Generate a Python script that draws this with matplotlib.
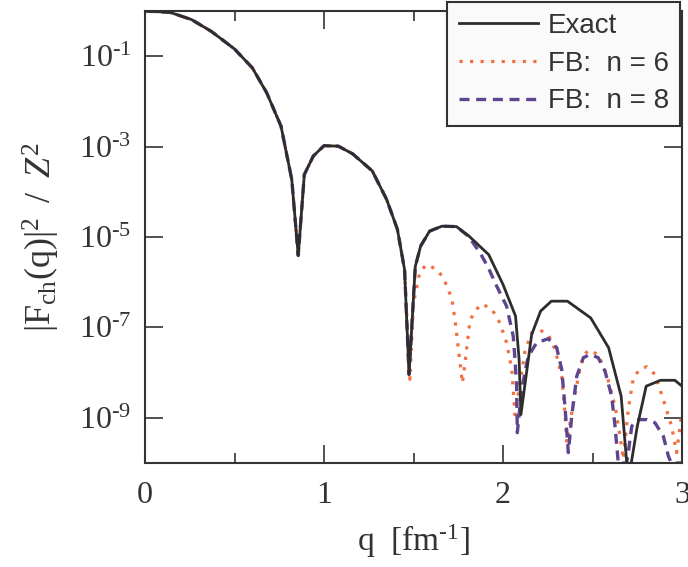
import numpy as np
import matplotlib
matplotlib.use("Agg")
import matplotlib.pyplot as plt

plt.rcParams['font.family'] = ['Liberation Serif', 'DejaVu Serif']
plt.rcParams['mathtext.fontset'] = 'custom'
plt.rcParams['mathtext.rm'] = 'Liberation Serif'
plt.rcParams['mathtext.it'] = 'Liberation Serif:italic'
plt.rcParams['mathtext.bf'] = 'Liberation Serif:bold'

# Data (log10 of |F_ch(q)|^2 / Z^2) ============================================
q_exact = [0.00, 0.14, 0.26, 0.37, 0.50, 0.60, 0.68, 0.76, 0.82, 0.856, 0.89, 0.94,
           1.00, 1.08, 1.16, 1.27, 1.35, 1.41, 1.45, 1.475, 1.51, 1.54, 1.59, 1.66,
           1.74, 1.81, 1.92, 2.00, 2.07, 2.09, 2.10, 2.16, 2.21, 2.27, 2.36, 2.49,
           2.59, 2.66, 2.70, 2.75, 2.80, 2.88, 2.96, 3.00]
lg_exact = [0.0, -0.03, -0.19, -0.45, -0.84, -1.26, -1.81, -2.55, -3.73, -5.41, -3.62, -3.21,
            -2.98, -2.99, -3.16, -3.54, -4.17, -4.83, -5.72, -8.04, -5.65, -5.20, -4.87, -4.76,
            -4.77, -4.98, -5.39, -6.05, -6.75, -7.71, -8.93, -7.16, -6.64, -6.42, -6.42, -6.79,
            -7.45, -8.52, -10.4, -9.19, -8.30, -8.17, -8.17, -8.30]

q_n6 = [0.00, 0.14, 0.26, 0.37, 0.50, 0.60, 0.68, 0.76, 0.82, 0.856, 0.89, 0.94,
        1.00, 1.08, 1.16, 1.27, 1.35, 1.41, 1.45, 1.48, 1.50, 1.536, 1.574, 1.63,
        1.667, 1.713, 1.732, 1.751, 1.773, 1.788, 1.816, 1.853, 1.881, 1.937, 1.983, 2.02,
        2.049, 2.067, 2.123, 2.16, 2.207, 2.253, 2.291, 2.328, 2.346, 2.356, 2.384, 2.421,
        2.449, 2.477, 2.532, 2.579, 2.626, 2.654, 2.672, 2.70, 2.728, 2.765, 2.803, 2.849,
        2.896, 2.942, 2.97, 3.00]
lg_n6 = [0.0, -0.03, -0.19, -0.45, -0.84, -1.26, -1.81, -2.55, -3.73, -5.41, -3.62, -3.21,
         -2.98, -2.99, -3.16, -3.54, -4.17, -4.83, -5.72, -8.15, -6.46, -5.76, -5.61, -5.72,
         -5.90, -6.35, -6.83, -7.49, -8.23, -7.78, -6.83, -6.60, -6.48, -6.59, -6.90, -7.34,
         -7.93, -8.93, -7.53, -7.12, -7.06, -7.16, -7.49, -8.08, -8.89, -9.55, -8.89, -8.08,
         -7.64, -7.50, -7.60, -8.04, -8.74, -9.41, -9.92, -8.81, -8.12, -7.92, -7.87, -8.04,
         -8.60, -9.19, -9.77, -8.85]

q_n8 = [0.00, 0.14, 0.26, 0.37, 0.50, 0.60, 0.68, 0.76, 0.82, 0.856, 0.89, 0.94,
        1.00, 1.08, 1.16, 1.27, 1.35, 1.41, 1.45, 1.475, 1.51, 1.54, 1.59, 1.66,
        1.74, 1.806, 1.872, 1.918, 1.965, 2.02, 2.057, 2.067, 2.076, 2.08, 2.104, 2.141,
        2.188, 2.253, 2.30, 2.328, 2.346, 2.365, 2.384, 2.412, 2.449, 2.486, 2.532, 2.57,
        2.607, 2.626, 2.644, 2.69, 2.70, 2.719, 2.747, 2.803, 2.849, 2.896, 2.924, 2.94,
        3.00]
lg_n8 = [0.0, -0.03, -0.19, -0.45, -0.84, -1.26, -1.81, -2.55, -3.73, -5.41, -3.62, -3.21,
         -2.98, -2.99, -3.16, -3.54, -4.17, -4.83, -5.72, -8.04, -5.65, -5.20, -4.87, -4.76,
         -4.77, -4.98, -5.35, -5.68, -6.09, -6.53, -7.19, -7.71, -8.30, -9.33, -8.37, -7.64,
         -7.34, -7.25, -7.45, -7.93, -8.74, -9.77, -8.96, -8.08, -7.67, -7.60, -7.67, -7.97,
         -8.52, -9.19, -10.0, -10.0, -9.77, -9.19, -9.04, -9.04, -9.11, -9.41, -9.85, -10.0,
         -10.0]

labels = ["Exact", "FB:  n = 6", "FB:  n = 8"]
y_ticks = [1e-1, 1e-3, 1e-5, 1e-7, 1e-9]
x_ticks = [0, 1, 2, 3]

# Plot ==========================================================================
txt = '#333333'
fig = plt.figure(figsize=(6.88, 5.67), dpi=100)
ax = fig.add_axes([145/688, 1 - 463/567, 537/688, 452/567])

ax.plot(q_exact, 10.0**np.array(lg_exact), color='#2d2d2d', lw=2.0, label=labels[0], zorder=3)
ax.plot(q_n6, 10.0**np.array(lg_n6), color='#f2703f', lw=2.3, ls=(0, (1.0, 2.3)), label=labels[1], zorder=2)
ax.plot(q_n8, 10.0**np.array(lg_n8), color='#5e4590', lw=2.4, ls=(0, (3.0, 2.0)), label=labels[2], zorder=2)

ax.set_yscale('log')
ax.set_xlim(0, 3)
ax.set_ylim(1e-10, 1)
ax.set_xticks(x_ticks)
ax.set_xticks([0.5, 1.5, 2.5], minor=True)
ax.set_yticks(y_ticks)
ax.set_yticklabels([r'$\mathrm{10}^{\text{-%d}}$' % int(-np.log10(v) + 0.5) for v in y_ticks])
ax.yaxis.set_minor_locator(matplotlib.ticker.NullLocator())

ax.tick_params(which='both', direction='in', top=True, right=True, colors=txt, width=1.2, labelsize=23)
ax.tick_params(axis='x', which='major', length=13, pad=13)
ax.tick_params(axis='x', which='minor', length=7)
ax.tick_params(axis='y', which='major', length=13, pad=10)
for s in ax.spines.values():
    s.set_color(txt); s.set_linewidth(1.5)

ax.set_xlabel(r'q  [fm$^{\text{-1}}$]', fontsize=24, color=txt, labelpad=9)
ax.set_ylabel(r'$\mathrm{|F_{ch}(q)|^{2}}\;\;/\;\;\mathit{Z}^{\mathrm{2}}$', fontsize=26, color=txt, labelpad=12)

leg = ax.legend(loc='upper left', bbox_to_anchor=(447/688, 1 - 1.5/567), bbox_transform=fig.transFigure,
                prop={'family': 'Liberation Sans', 'size': 20}, fancybox=False, framealpha=1,
                facecolor='#fafafa', edgecolor=txt, handlelength=2.85, handletextpad=0.35,
                borderpad=0.42, labelspacing=0.42, borderaxespad=0)
leg.get_frame().set_linewidth(1.5)
for t in leg.get_texts():
    t.set_color(txt)

plt.savefig("out.png", dpi=100)
